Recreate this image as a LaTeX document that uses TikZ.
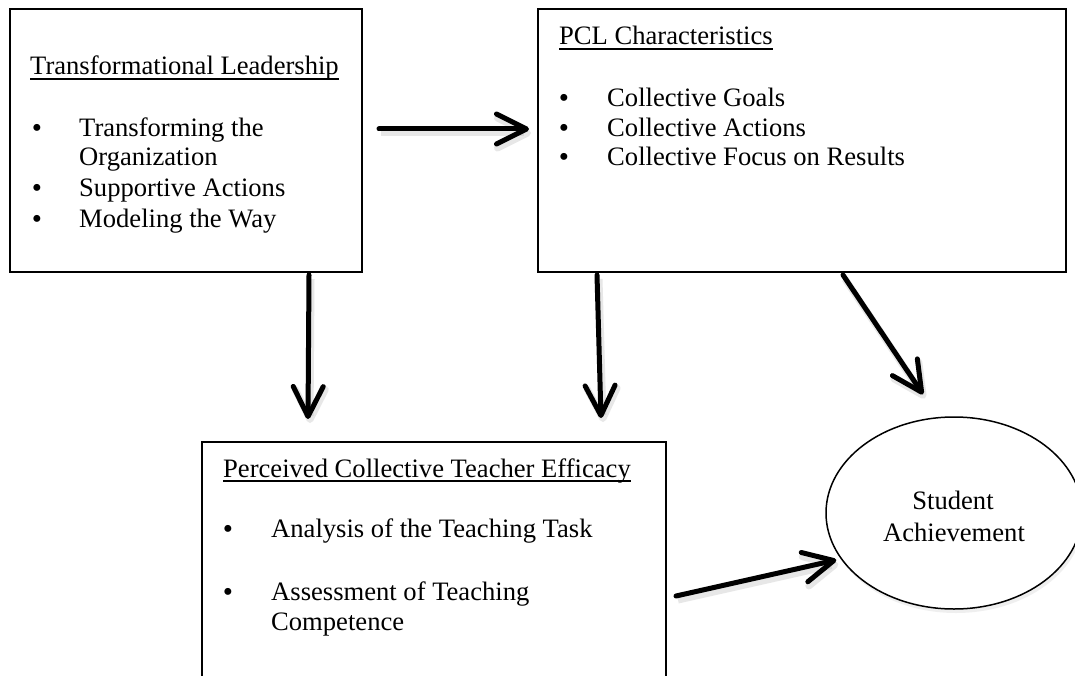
\documentclass[tikz,border=0pt]{standalone}
\usepackage{fontspec}
\setmainfont{Liberation Serif}
\usetikzlibrary{arrows.meta,shapes.geometric,shadows}
\begin{document}
\begin{tikzpicture}[x=1pt,y=-1pt,
  box/.style={draw, line width=2pt, rectangle, inner sep=0pt},
  txt/.style={inner sep=0pt, anchor=base west, font=\fontsize{26.6}{30}\selectfont},
  bul/.style={inner sep=0pt, anchor=base, yshift=-1pt, text height=10pt, text depth=0pt, font=\fontsize{29}{29}\selectfont},
  ctr/.style={inner sep=0pt, anchor=base, font=\fontsize{26.6}{30}\selectfont},
  ul/.style={line width=1.4pt},
  arr/.style={line width=5pt, line cap=round, -{Straight Barb[length=30pt,width=30pt,round]},
    preaction={draw=black!30, line width=7pt, opacity=0.3, transform canvas={shift={(2,4)}}}},
]
\clip (0,0) rectangle (1075,676);
\fill[white] (0,0) rectangle (1075,676);

% boxes
\node[box, minimum width=352pt, minimum height=263pt] (tl) at (186,140.5) {};
\node[box, minimum width=528pt, minimum height=263pt] (pcl) at (802,140.5) {};
\node[box, minimum width=464pt, minimum height=258pt] (pce) at (434,571) {};
\node[draw, ellipse, line width=1.5pt, minimum width=256pt, minimum height=192pt, inner sep=0pt,
      fill=white, drop shadow={opacity=0.12, shadow xshift=2pt, shadow yshift=-4pt}] (sa) at (954,513) {};

% Transformational Leadership
\node[txt] (tlt) at (30,75) {Transformational Leadership};
\draw[ul] ([yshift=-4pt]tlt.base west) -- ([yshift=-4pt]tlt.base east);
\node[bul] (tlb1) at (37,137) {•};
\node[txt] (tl1) at (79,137) {Transforming the};
\node[txt] (tl2) at (79,166) {Organization};
\node[bul] (tlb2) at (37,197) {•};
\node[txt] (tl3) at (79,197) {Supportive Actions};
\node[bul] (tlb3) at (37,228) {•};
\node[txt] (tl4) at (79,228) {Modeling the Way};

% PCL Characteristics
\node[txt] (pclt) at (559,45) {PCL Characteristics};
\draw[ul] ([yshift=-4pt]pclt.base west) -- ([yshift=-4pt]pclt.base east);
\node[bul] (pb1) at (564,107) {•};
\node[txt] (p1) at (607,107) {Collective Goals};
\node[bul] (pb2) at (564,137) {•};
\node[txt] (p2) at (607,137) {Collective Actions};
\node[bul] (pb3) at (564,166) {•};
\node[txt] (p3) at (607,166) {Collective Focus on Results};

% Perceived Collective Teacher Efficacy
\node[txt] (pcet) at (223,477) {Perceived Collective Teacher Efficacy};
\draw[ul] ([yshift=-4pt]pcet.base west) -- ([yshift=-4pt]pcet.base east);
\node[bul] (eb1) at (228,537) {•};
\node[txt] (e1) at (271,537) {Analysis of the Teaching Task};
\node[bul] (eb2) at (228,600) {•};
\node[txt] (e2) at (271,600) {Assessment of Teaching};
\node[txt] (e3) at (271,630) {Competence};

% Student Achievement
\node[ctr] (sa1) at (953,509) {Student};
\node[ctr] (sa2) at (954,541) {Achievement};

% connectors
\draw[arr] ([shift={(16,-11.5)}]tl.east) -- ([shift={(-8,-11.5)}]pcl.west);
\draw[arr] ([shift={(-54,2)}]tl.south east) -- ([shift={(107,-22)}]pce.north west);
\draw[arr] ([shift={(60,2)}]pcl.south west) -- ([shift={(-66,-23)}]pce.north east);
\draw[arr] ([shift={(41,2)}]pcl.south) -- ([shift={(-31,-22)}]sa.north);
\draw[arr] ([shift={(9,155)}]pce.north east) -- ([shift={(11,47)}]sa.west);
\end{tikzpicture}
\end{document}
